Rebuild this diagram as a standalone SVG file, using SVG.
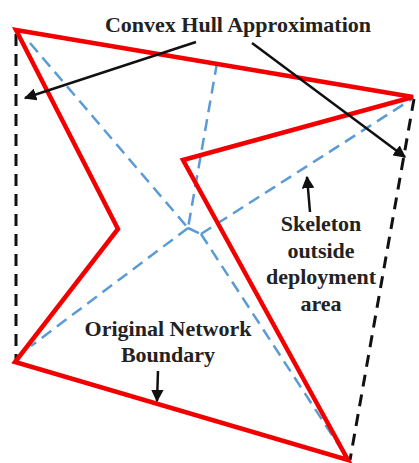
<svg xmlns="http://www.w3.org/2000/svg" width="419" height="463" viewBox="0 0 419 463">
<defs>
<style>
.hull{fill:none;stroke:#111;stroke-width:3;stroke-dasharray:12,8}
.skel{fill:none;stroke:#5b9bd5;stroke-width:2.5;stroke-dasharray:12,7}
.bnd{fill:none;stroke:#f20000;stroke-width:4.5;stroke-linejoin:miter}
.lbl{font-family:"Liberation Serif","Times New Roman",serif;font-weight:bold;font-size:22px;fill:#222}
.arr{fill:none;stroke:#111;stroke-width:2.5;marker-end:url(#ah)}
</style>
<marker id="ah" viewBox="0 0 10 10" refX="9" refY="5" markerWidth="5" markerHeight="5" orient="auto" markerUnits="strokeWidth">
<path d="M0,0 L10,5 L0,10 z" fill="#111"/>
</marker>
</defs>
<rect width="419" height="463" fill="#fff"/>
<g id="hull">
<line class="hull" x1="16" y1="34" x2="16" y2="360"/>
<line class="hull" x1="414" y1="99" x2="350" y2="460"/>
</g>
<g id="skeleton">
<polyline class="skel" points="30,43 188,228"/>
<polyline class="skel" points="217,63 188,228"/>
<polyline class="skel" points="188,228 31,346"/>
<polyline class="skel" points="188,228 201,234"/>
<polyline class="skel" points="201,234 412,99"/>
<polyline class="skel" points="201,234 347,458"/>
</g>
<g id="boundary">
<polygon class="bnd" points="16,30 413,97 183,160 348,460 15,362 118,229"/>
</g>
<g id="connectors">
<line class="arr" x1="196" y1="42" x2="25" y2="98"/>
<line class="arr" x1="252" y1="43" x2="405" y2="157"/>
<line class="arr" x1="310" y1="212" x2="307" y2="177"/>
<line class="arr" x1="158" y1="371" x2="157" y2="401"/>
</g>
<g id="label-hull">
<text class="lbl" x="238" y="32" text-anchor="middle">Convex Hull Approximation</text>
</g>
<g id="label-skeleton">
<text class="lbl" x="321" y="231" text-anchor="middle">Skeleton</text>
<text class="lbl" x="321" y="258" text-anchor="middle">outside</text>
<text class="lbl" x="321" y="284" text-anchor="middle">deployment</text>
<text class="lbl" x="321" y="311" text-anchor="middle">area</text>
</g>
<g id="label-boundary">
<text class="lbl" x="168" y="336" text-anchor="middle">Original Network</text>
<text class="lbl" x="168" y="362" text-anchor="middle">Boundary</text>
</g>
</svg>
